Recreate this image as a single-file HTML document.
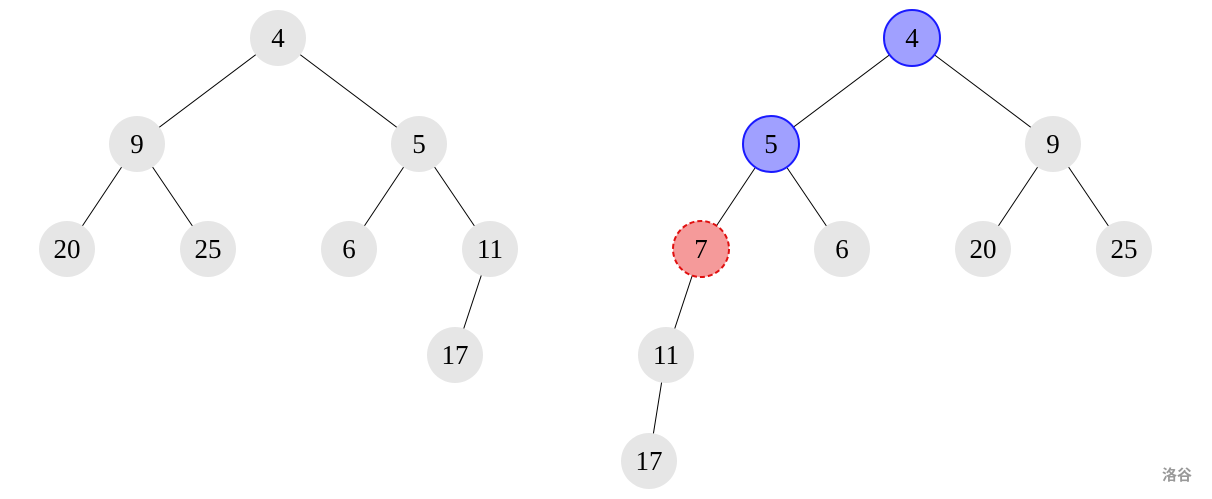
<!DOCTYPE html>
<html><head><style>body{margin:0;background:#fff}svg{display:block}</style></head><body>
<svg width="1212" height="499" xmlns="http://www.w3.org/2000/svg" font-family="'Liberation Serif',serif" font-size="27">
<g stroke="#000" stroke-width="1">
<line x1="278" y1="38" x2="137" y2="144"/><line x1="278" y1="38" x2="419" y2="144"/>
<line x1="137" y1="144" x2="67" y2="249"/><line x1="137" y1="144" x2="208" y2="249"/>
<line x1="419" y1="144" x2="349" y2="249"/><line x1="419" y1="144" x2="490" y2="249"/>
<line x1="490" y1="249" x2="455" y2="355"/>
<line x1="912" y1="38" x2="771" y2="144"/><line x1="912" y1="38" x2="1053" y2="144"/>
<line x1="771" y1="144" x2="701" y2="249"/><line x1="771" y1="144" x2="842" y2="249"/>
<line x1="1053" y1="144" x2="983" y2="249"/><line x1="1053" y1="144" x2="1124" y2="249"/>
<line x1="701" y1="249" x2="666" y2="355"/><line x1="666" y1="355" x2="649" y2="461"/>
</g>
<g fill="#e6e6e6">
<circle cx="278" cy="38" r="28"/><circle cx="137" cy="144" r="28"/><circle cx="419" cy="144" r="28"/>
<circle cx="67" cy="249" r="28"/><circle cx="208" cy="249" r="28"/><circle cx="349" cy="249" r="28"/>
<circle cx="490" cy="249" r="28"/><circle cx="455" cy="355" r="28"/>
<circle cx="1053" cy="144" r="28"/><circle cx="842" cy="249" r="28"/><circle cx="983" cy="249" r="28"/>
<circle cx="1124" cy="249" r="28"/><circle cx="666" cy="355" r="28"/><circle cx="649" cy="461" r="28"/>
</g>
<circle cx="912" cy="38" r="28" fill="#a0a0ff" stroke="#1a1aff" stroke-width="2"/>
<circle cx="771" cy="144" r="28" fill="#a0a0ff" stroke="#1a1aff" stroke-width="2"/>
<circle cx="701" cy="249" r="28" fill="#f59a9a" stroke="#e01010" stroke-width="2" stroke-dasharray="5,3"/>
<g text-anchor="middle" dominant-baseline="central" fill="#000">
<text x="278" y="38">4</text><text x="137" y="144">9</text><text x="419" y="144">5</text>
<text x="67" y="249">20</text><text x="208" y="249">25</text><text x="349" y="249">6</text>
<text x="490" y="249">11</text><text x="455" y="355">17</text>
<text x="912" y="38">4</text><text x="771" y="144">5</text><text x="1053" y="144">9</text>
<text x="701" y="249">7</text><text x="842" y="249">6</text><text x="983" y="249">20</text>
<text x="1124" y="249">25</text><text x="666" y="355">11</text><text x="649" y="461">17</text>
</g>
<text x="1177" y="480" text-anchor="middle" font-size="15" font-weight="bold" fill="#999" font-family="'Noto Sans CJK SC',sans-serif">洛谷</text>
</svg>
</body></html>
